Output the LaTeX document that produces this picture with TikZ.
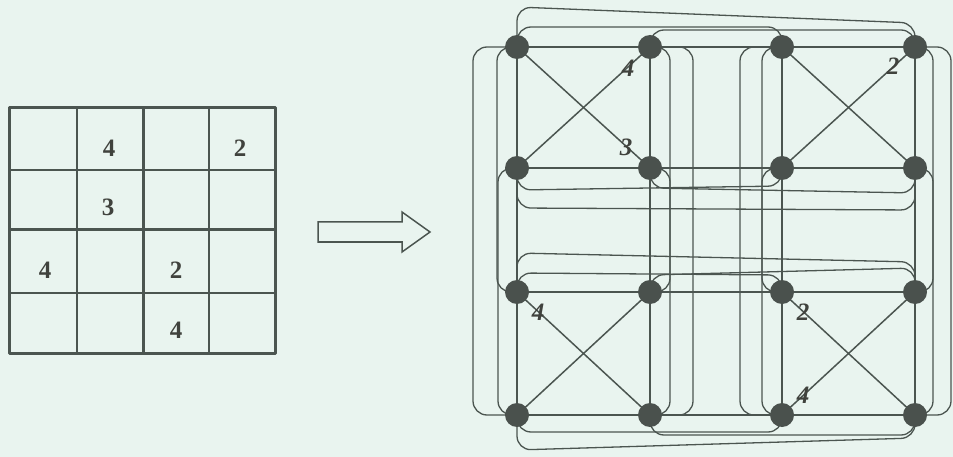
\documentclass[tikz,border=0pt]{standalone}
\usepackage{fontspec}
\setmainfont{Liberation Serif}
\usetikzlibrary{calc}
\definecolor{bgc}{HTML}{E9F4EF}
\definecolor{ink}{HTML}{4B5550}
\definecolor{vfill}{HTML}{4A514D}
\definecolor{txt}{HTML}{40423D}
\pgfdeclarelayer{back}
\pgfdeclarelayer{edges}
\pgfsetlayers{back,edges,main}
\newcommand\rowarc[4]{\draw[arcline] (#1.center) -- ++(0,#3) -- ($(#2.center)+(0,#4)$) -- (#2.center);}
\newcommand\colarc[4]{\draw[arcline] (#1.center) -- ++(#3,0) -- ($(#2.center)+(#4,0)$) -- (#2.center);}
\begin{document}
\begin{tikzpicture}[x=1pt,y=-1pt,
  vert/.style={circle,fill=vfill,minimum size=24pt,inner sep=0pt},
  edge/.style={draw=ink,line width=2.7pt},
  diag/.style={draw=ink,line width=1.5pt},
  arcline/.style={draw=ink,line width=1.3pt,rounded corners=14pt},
  gridthin/.style={draw=ink,line width=2.2pt},
  gridthick/.style={draw=ink,line width=3pt},
  gdigit/.style={text=txt,font=\fontsize{25}{25}\selectfont\bfseries,inner sep=0pt},
  vlabel/.style={text=txt,font=\fontsize{25}{25}\selectfont\bfseries\itshape,inner sep=0pt}]
\begin{pgfonlayer}{back}
\fill[bgc] (0,0) rectangle (953,457);
\end{pgfonlayer}
\useasboundingbox (0,0) rectangle (953,457);

% ---- Sudoku grid ----
\foreach \x in {77,209} \draw[gridthin] (\x,108) -- (\x,353);
\foreach \y in {170,293} \draw[gridthin] (9,\y) -- (275,\y);
\draw[gridthick] (143,108) -- (143,353);
\draw[gridthick] (9,230) -- (275,230);
\draw[gridthick,line join=round] (9,108) rectangle (275,353);
\node[gdigit] (g12) at (109,148) {4};
\node[gdigit] (g14) at (240,148) {2};
\node[gdigit] (g22) at (108,207) {3};
\node[gdigit] (g31) at (45,270) {4};
\node[gdigit] (g33) at (176,270) {2};
\node[gdigit] (g43) at (176,330) {4};

% ---- Arrow ----
\draw[ink,line width=1.5pt,line join=miter] (318,222) coordinate (arrtail) -- (402,222) -- (402,212) -- (430,232) coordinate (arrtip) -- (402,252) -- (402,242) -- (318,242) -- cycle;

% ---- Graph vertices ----
\foreach \r/\y in {1/47,2/168,3/292,4/415}
  \foreach \c/\x in {1/517,2/650,3/782,4/915}
    \node[vert] (v\r\c) at (\x,\y) {};

\node[vlabel] (l12) at (628,68) {4};
\node[vlabel] (l22) at (626,147) {3};
\node[vlabel] (l14) at (893,66) {2};
\node[vlabel] (l31) at (538,312) {4};
\node[vlabel] (l33) at (803,312) {2};
\node[vlabel] (l43) at (803,395) {4};

\begin{pgfonlayer}{edges}
% straight row and column edges
\foreach \r in {1,2,3,4}{
  \draw[edge] (v\r1.center) -- (v\r2.center) -- (v\r3.center) -- (v\r4.center);
  \draw[edge] (v1\r.center) -- (v2\r.center) -- (v3\r.center) -- (v4\r.center);
}
% box diagonals
\draw[diag] (v11.center) -- (v22.center); \draw[diag] (v12.center) -- (v21.center);
\draw[diag] (v13.center) -- (v24.center); \draw[diag] (v14.center) -- (v23.center);
\draw[diag] (v31.center) -- (v42.center); \draw[diag] (v32.center) -- (v41.center);
\draw[diag] (v33.center) -- (v44.center); \draw[diag] (v34.center) -- (v43.center);
% row arcs
\rowarc{v11}{v14}{-40}{-24}
\rowarc{v11}{v13}{-20}{-20}
\rowarc{v12}{v14}{-17}{-17}
\rowarc{v21}{v24}{40}{42}
\rowarc{v21}{v23}{22}{18}
\rowarc{v22}{v24}{20}{25}
\rowarc{v31}{v34}{-39}{-30}
\rowarc{v31}{v33}{-19}{-17}
\rowarc{v32}{v34}{-17}{-24}
\rowarc{v41}{v44}{35}{23}
\rowarc{v41}{v43}{17}{17}
\rowarc{v42}{v44}{20}{20}
% column arcs
\colarc{v11}{v41}{-44}{-44}
\colarc{v11}{v31}{-20}{-20}
\colarc{v21}{v41}{-19}{-19}
\colarc{v12}{v42}{43}{43}
\colarc{v12}{v32}{20}{20}
\colarc{v22}{v42}{20}{20}
\colarc{v13}{v43}{-42}{-42}
\colarc{v13}{v33}{-20}{-20}
\colarc{v23}{v43}{-20}{-20}
\colarc{v14}{v44}{36}{36}
\colarc{v14}{v34}{18}{18}
\colarc{v24}{v44}{18}{18}
\end{pgfonlayer}
\end{tikzpicture}
\end{document}
